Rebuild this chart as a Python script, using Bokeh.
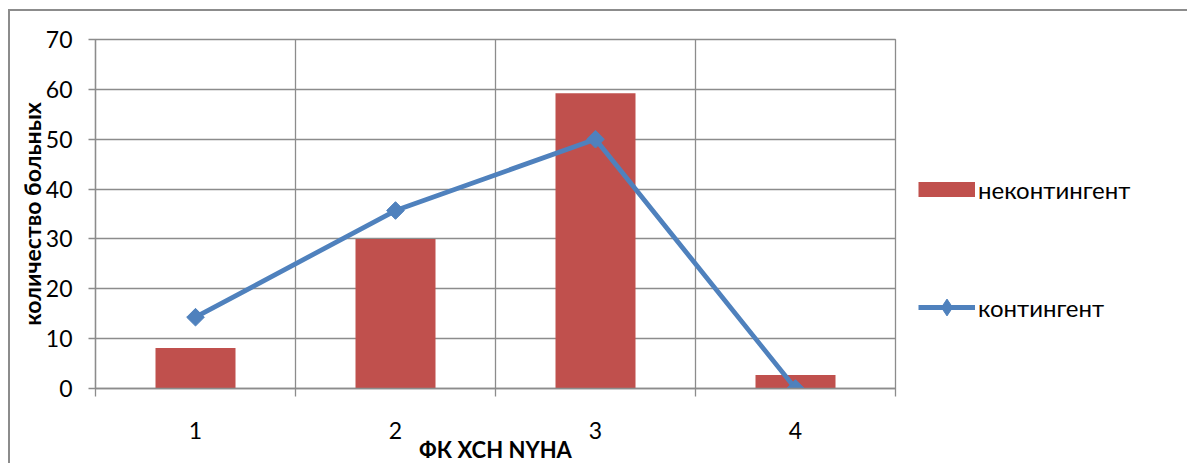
from bokeh.plotting import figure
from bokeh.models import Range1d, FixedTicker, Legend, LegendItem
from bokeh.embed import file_html
from bokeh.resources import INLINE
import math

categories = [1, 2, 3, 4]
tick_labels = ["1", "2", "3", "4"]
nekontingent = [8.1, 30.0, 59.2, 2.7]
kontingent = [14.3, 35.7, 50.0, 0.0]
y_ticks = [0, 10, 20, 30, 40, 50, 60, 70]
series_names = ["неконтингент", "контингент"]

GRID = "#8c8c8c"
FONT = "Lato"
BAR_C = "#C0504D"
LINE_C = "#4F81BD"
NAN = float("nan")

p = figure(width=1177, height=452, output_backend="svg", toolbar_location=None,
           x_range=Range1d(0.5, 4.5), y_range=Range1d(0, 70),
           frame_width=800, frame_height=349,
           min_border_left=85, min_border_top=28, min_border_right=292, min_border_bottom=75)
p.styles = {"margin-left": "8px", "margin-top": "9px",
            "border-left": "2px solid #8c8c8c", "border-top": "2px solid #8c8c8c"}
p.outline_line_color = GRID
p.outline_line_width = 1.3

bars = p.vbar(x=categories, top=nekontingent, width=0.4, fill_color=BAR_C, line_color=None)
ln = p.line(x=categories, y=kontingent, line_color=LINE_C, line_width=4.8)
mk = p.scatter(x=categories, y=kontingent, marker="square", angle=math.pi / 4, size=12.5,
               fill_color=LINE_C, line_color=LINE_C)
# legend-only swatches (no visible data on the plot)
bar_swatch = p.line(x=[NAN], y=[NAN], line_color=BAR_C, line_width=15, line_cap="butt")
diamond_swatch = p.scatter(x=[NAN], y=[NAN], marker="diamond", size=12,
                           fill_color=LINE_C, line_color=LINE_C)

# x axis
xa = p.xaxis[0]
xa.ticker = FixedTicker(ticks=categories, minor_ticks=[0.5, 1.5, 2.5, 3.5, 4.5])
xa.major_label_overrides = {c: t for c, t in zip(categories, tick_labels)}
xa.major_tick_out = 0
xa.major_tick_in = 0
xa.minor_tick_out = 8
xa.minor_tick_in = 0
xa.minor_tick_line_color = GRID
xa.minor_tick_line_width = 1.3
xa.axis_line_color = GRID
xa.axis_line_width = 1.3
xa.major_label_text_font = FONT
xa.major_label_text_font_size = "23px"
xa.major_label_text_color = "black"
xa.major_label_standoff = 25
xa.axis_label = "ФК ХСН NYHA"
xa.axis_label_text_font = FONT
xa.axis_label_text_font_style = "bold"
xa.axis_label_text_font_size = "22px"
xa.axis_label_text_color = "black"
xa.axis_label_standoff = -6

# y axis
ya = p.yaxis[0]
ya.ticker = FixedTicker(ticks=y_ticks, minor_ticks=[])
ya.major_tick_out = 7
ya.major_tick_in = 0
ya.major_tick_line_color = GRID
ya.major_tick_line_width = 1.3
ya.axis_line_color = GRID
ya.axis_line_width = 1.3
ya.major_label_text_font = FONT
ya.major_label_text_font_size = "23px"
ya.major_label_text_color = "black"
ya.major_label_standoff = 16
ya.axis_label = "количество больных"
ya.axis_label_text_font = FONT
ya.axis_label_text_font_style = "bold"
ya.axis_label_text_font_size = "23px"
ya.axis_label_text_color = "black"
ya.axis_label_standoff = -3

p.xgrid.grid_line_color = None
p.xgrid.minor_grid_line_color = GRID
p.xgrid.minor_grid_line_width = 1.3
p.ygrid.grid_line_color = GRID
p.ygrid.grid_line_width = 1.3

legend = Legend(items=[LegendItem(label=series_names[0], renderers=[bar_swatch]),
                       LegendItem(label=series_names[1], renderers=[ln, diamond_swatch])],
                location=(23, 60), glyph_width=57, glyph_height=42, label_standoff=3,
                padding=0, margin=0, spacing=76, border_line_color=None,
                background_fill_alpha=0, label_text_font=FONT, label_text_font_size="24px",
                label_text_color="black", label_height=22)
p.add_layout(legend, "right")

open("out.html", "w").write(file_html(p, INLINE))
